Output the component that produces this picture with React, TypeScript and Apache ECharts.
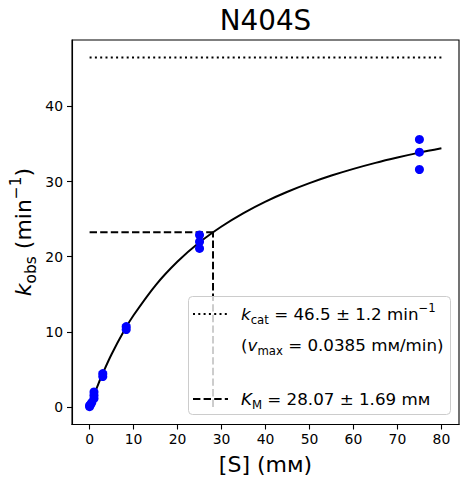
import React, { useEffect, useRef } from "react";
import * as echarts from "echarts";

// Measured substrate concentrations [S] (mM) and observed rates k_obs (min^-1)
const substrate = [0, 0, 0.25, 0.5, 1, 1, 1, 3, 3, 8.33, 8.33, 25, 25, 25, 75, 75, 75];
const kobs = [0.05, 0.2, 0.35, 0.6, 1.15, 1.55, 2.0, 4.05, 4.45, 10.3, 10.7, 21.1, 22.0, 22.9, 31.6, 33.9, 35.6];

// Fitted Michaelis–Menten curve
const fitS = [0, 1, 2, 3, 5, 8, 10, 15, 20, 25, 30, 35, 40, 45, 50, 55, 60, 65, 70, 75, 80];
const fitK = [0, 1.6, 3.09, 4.49, 7.03, 10.31, 12.21, 16.19, 19.35, 21.91, 24.02, 25.8, 27.33, 28.64, 29.78, 30.79, 31.68, 32.48, 33.19, 33.84, 34.42];

// Fit parameters
const kcat = 46.5;
const km = 28.07;
const halfKcat = 23.25;
const kcatLineS = [0, 80];

// Axes
const xTicks = [0, 10, 20, 30, 40, 50, 60, 70, 80];
const yTicks = [0, 10, 20, 30, 40];
const xRange = [-4, 84];
const yRange = [-2.325, 48.825];

const FONT = "DejaVu Sans";

export default function App() {
  const ref = useRef<HTMLDivElement>(null);

  useEffect(() => {
    const chart = echarts.init(ref.current!, null, { renderer: "svg" });

    const gridLeft = 72;
    const gridRight = 10;
    const gridTop = 40;
    const gridBottom = 59.5;
    const axesCenterX = gridLeft + (469 - gridLeft - gridRight) / 2;

    const richLabel = (fs: number, lh: number, sublh: number) => ({
      n: { fontSize: fs, fontFamily: FONT, lineHeight: lh, fill: "#000" },
      i: { fontSize: fs, fontFamily: FONT, fontStyle: "italic", lineHeight: lh, fill: "#000" },
      sub: { fontSize: fs * 0.7, fontFamily: FONT, lineHeight: sublh, verticalAlign: "bottom", fill: "#000" },
      sup: { fontSize: fs * 0.7, fontFamily: FONT, lineHeight: sublh, verticalAlign: "top", fill: "#000" },
    });

    const legendFs = 16.7;
    const legendRich = richLabel(legendFs, 24, 10);
    const axisRich = richLabel(22, 30, 14);

    chart.setOption({
      animation: false,
      backgroundColor: "#fff",
      grid: {
        left: gridLeft,
        right: gridRight,
        top: gridTop,
        bottom: gridBottom,
        show: true,
        borderColor: "#000",
        borderWidth: 1.1,
        backgroundColor: "transparent",
      },
      xAxis: {
        type: "value",
        min: xRange[0],
        max: xRange[1],
        axisLine: { show: true, onZero: false, lineStyle: { color: "#000", width: 1.1 } },
        axisTick: { show: true, inside: false, length: 5, lineStyle: { color: "#000", width: 1.1 }, customValues: xTicks },
        axisLabel: { customValues: xTicks, color: "#000", fontSize: 13.9, fontFamily: FONT, margin: 7 },
        splitLine: { show: false },
      },
      yAxis: {
        type: "value",
        min: yRange[0],
        max: yRange[1],
        axisLine: { show: true, onZero: false, lineStyle: { color: "#000", width: 1.1 } },
        axisTick: { show: true, inside: false, length: 5, lineStyle: { color: "#000", width: 1.1 }, customValues: yTicks },
        axisLabel: { customValues: yTicks, color: "#000", fontSize: 13.9, fontFamily: FONT, margin: 9 },
        splitLine: { show: false },
      },
      series: [
        {
          type: "line",
          data: kcatLineS.map((s) => [s, kcat]),
          symbol: "none",
          lineStyle: { color: "#000", width: 2, type: [2, 3.3] },
          z: 3,
        },
        {
          type: "line",
          data: [
            [0, halfKcat],
            [km, halfKcat],
          ],
          symbol: "none",
          lineStyle: { color: "#000", width: 2, type: [7.4, 3.2] },
          z: 3,
        },
        {
          type: "line",
          data: [
            [km, 0],
            [km, halfKcat],
          ],
          symbol: "none",
          lineStyle: { color: "#000", width: 2, type: [7.4, 3.2] },
          z: 3,
        },
        {
          type: "line",
          data: fitS.map((s, i) => [s, fitK[i]]),
          symbol: "none",
          smooth: 0.3,
          lineStyle: { color: "#000", width: 2 },
          z: 3,
        },
        {
          type: "scatter",
          data: substrate.map((s, i) => [s, kobs[i]]),
          symbol: "circle",
          symbolSize: 9,
          itemStyle: { color: "#0000ff", opacity: 1 },
          z: 4,
        },
      ],
      graphic: [
        {
          type: "text",
          z: 100,
          x: axesCenterX,
          y: 20,
          style: { text: "N404S", fontSize: 27.8, fontFamily: FONT, fill: "#000", align: "center", verticalAlign: "middle" },
        },
        {
          type: "text",
          z: 100,
          x: axesCenterX,
          y: 464,
          style: { text: "[S] (mм)", fontSize: 22, fontFamily: FONT, fill: "#000", align: "center", verticalAlign: "middle" },
        },
        {
          type: "text",
          z: 100,
          x: 23,
          y: 232,
          rotation: Math.PI / 2,
          style: {
            text: "{i|k}{sub|obs}{n| (min}{sup|−1}{n|)}",
            rich: axisRich,
            align: "center",
            verticalAlign: "middle",
          },
        },
        // legend box
        {
          type: "rect",
          z: 100,
          shape: { x: 188.5, y: 296.5, width: 262, height: 118, r: 4 },
          style: { fill: "rgba(255,255,255,0.8)", stroke: "#cccccc", lineWidth: 1 },
        },
        {
          type: "line",
          z: 101,
          shape: { x1: 193, y1: 314, x2: 228, y2: 314 },
          style: { stroke: "#000", lineWidth: 2, lineDash: [2, 3.3] },
        },
        {
          type: "text",
          z: 101,
          x: 241,
          y: 314,
          style: {
            text: "{i|k}{sub|cat}{n| = 46.5 ± 1.2 min}{sup|−1}",
            rich: legendRich,
            align: "left",
            verticalAlign: "middle",
          },
        },
        {
          type: "text",
          z: 101,
          x: 241,
          y: 345,
          style: {
            text: "{n|(}{i|v}{sub|max}{n| = 0.0385 mм/min)}",
            rich: legendRich,
            align: "left",
            verticalAlign: "middle",
          },
        },
        {
          type: "line",
          z: 101,
          shape: { x1: 193, y1: 399, x2: 228, y2: 399 },
          style: { stroke: "#000", lineWidth: 2, lineDash: [7.4, 3.2] },
        },
        {
          type: "text",
          z: 101,
          x: 241,
          y: 399,
          style: {
            text: "{i|K}{sub|M}{n| = 28.07 ± 1.69 mм}",
            rich: legendRich,
            align: "left",
            verticalAlign: "middle",
          },
        },
      ],
    });

    return () => chart.dispose();
  }, []);

  return (
    <div
      ref={ref}
      style={{ position: "fixed", left: 0, top: 0, width: 469, height: 484, background: "#fff" }}
    />
  );
}
